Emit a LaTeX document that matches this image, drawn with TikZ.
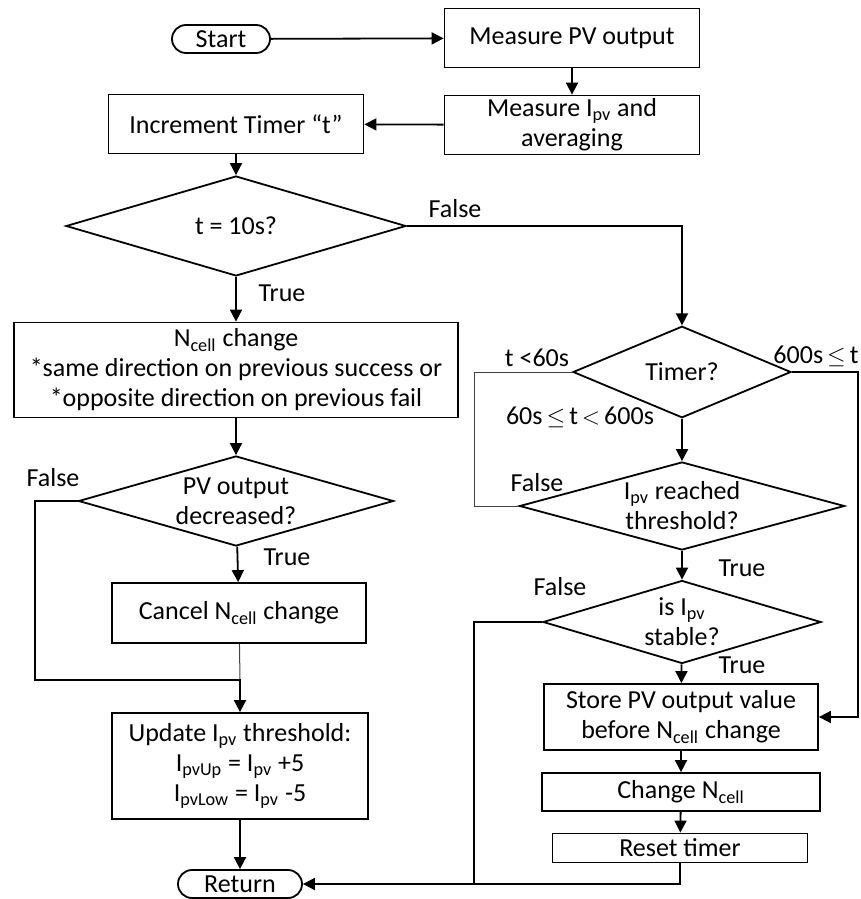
\documentclass[tikz,border=0pt]{standalone}
\usepackage{fontspec}
\setmainfont{Carlito}
\usetikzlibrary{arrows.meta,positioning,shapes.geometric,shapes.misc}

\newcommand{\Ipv}{I\textsubscript{pv}}
\newcommand{\Ncell}{N\textsubscript{cell}}

\begin{document}
\begin{tikzpicture}[x=0.5pt,y=-0.5pt,
  font=\fontsize{13}{15}\selectfont,
  box/.style={rectangle,draw,line width=0.9pt,align=center,inner sep=1pt},
  term/.style={rounded rectangle,draw,line width=0.9pt,inner sep=1pt},
  dec/.style={diamond,draw,line width=0.9pt,inner sep=0pt},
  arr/.style={-{Triangle[length=6pt,width=6pt]},line width=0.9pt},
  link/.style={line width=0.9pt},
  faint/.style={line width=0.5pt,black!75},
  lbl/.style={inner sep=1pt},
]
  \useasboundingbox (0,0) rectangle (861,899);

  % Start and measuring
  \node[term,minimum width=51pt,minimum height=14pt] (start) at (221,39) {Start};
  \node[box,minimum width=127.5pt,minimum height=29.5pt] (pvout) at (572,38) {Measure PV output};
  \node[box,minimum width=127.5pt,minimum height=29.5pt] (ipv) at (572,125) {Measure \Ipv{} and\\averaging};
  \node[box,minimum width=127.5pt,minimum height=29.5pt] (inc) at (236,124) {Increment Timer “t”};
  \node[dec,minimum width=170pt,minimum height=44pt] (d10) at (236,226) {t = 10s?};

  % Left branch: step N_cell
  \node[box,minimum width=222pt,minimum height=47.5pt] (ncell) at (236,370)
    {\Ncell{} change\\{}*same direction on previous success or\\{}*opposite direction on previous fail};
  \node[dec,minimum width=157.5pt,minimum height=45pt,
        label={[align=center]center:{PV output\\decreased?}}] (dpv) at (236,501) {};
  \node[box,minimum width=127pt,minimum height=30pt] (cancel) at (239,613) {Cancel \Ncell{} change};
  \node[box,minimum width=128pt,minimum height=53pt] (upd) at (240,766)
    {Update \Ipv{} threshold:\\I\textsubscript{pvUp} = \Ipv{} +5\\I\textsubscript{pvLow} = \Ipv{} -5};
  \node[term,minimum width=64pt,minimum height=14pt] (ret) at (240,884) {Return};

  % Right branch: timer checks
  \node[dec,minimum width=109pt,minimum height=26.5pt] (dtim) at (682,372) {Timer?};
  \node[dec,minimum width=162.5pt,minimum height=44pt,
        label={[align=center]center:{\Ipv{} reached\\threshold?}}] (dthr) at (682,506) {};
  \node[dec,minimum width=139pt,minimum height=41.5pt,
        label={[align=center]center:{is \Ipv\\stable?}}] (dstab) at (682,622) {};
  \node[box,minimum width=137pt,minimum height=33pt] (store) at (681,717)
    {Store PV output value\\before \Ncell{} change};
  \node[box,minimum width=139pt,minimum height=19pt] (chg) at (681,792) {Change \Ncell};
  \node[box,minimum width=127.5pt,minimum height=14.5pt] (reset) at (680,848) {Reset timer};

  % bends
  \coordinate (fl) at (35,680);
  \coordinate (j1) at (240,680);
  \coordinate (lx) at (474,884);
  \coordinate (rx) at (858,717);

  % main flow
  \draw[arr] (start) -- (pvout);
  \draw[arr] (pvout) -- (ipv);
  \draw[arr] (ipv) -- (inc);
  \draw[arr] (inc) -- (d10);
  \draw[arr] (d10.east) -| (dtim.north);
  \draw[arr] (d10) -- (ncell);
  \draw[arr] (ncell) -- (dpv);
  \draw[arr] (dpv) -- (cancel);
  \draw[faint] (cancel) -- (j1);
  \draw[arr] (dpv.west) -| (fl) -- (j1) -- (upd.north);
  \draw[arr] (upd) -- (ret);

  \draw[faint] (dtim.west) -| (dthr.west -| lx);
  \draw[faint] (dthr.west) -- (dthr.west -| lx);
  \draw[link] (dstab.west) -- (dstab.west -| lx) -- (lx);
  \draw[arr] (dtim.east) -| (rx) -- (store.east);
  \draw[arr] (dtim) -- (dthr);
  \draw[arr] (dthr) -- (dstab);
  \draw[arr] (dstab) -- (store);
  \draw[arr] (store) -- (chg);
  \draw[arr] (chg) -- (reset);
  \draw[arr] (reset.south) |- (ret.east);

  % branch labels
  \node[lbl] (f1) at (455,209) {False};
  \node[lbl] (t1) at (282,293) {True};
  \node[lbl] (f2) at (53,478) {False};
  \node[lbl] (t2) at (287,557) {True};
  \node[lbl] (lt) at (537,358) {t <60s};
  \node[lbl] (ge) at (816,356) {600s$\,\leq\,$t};
  \node[lbl] (mid) at (580,417) {60s$\,\leq\,$t$\,<\,$600s};
  \node[lbl] (f3) at (537,483) {False};
  \node[lbl] (t3) at (742,568) {True};
  \node[lbl] (f4) at (560,587) {False};
  \node[lbl] (t4) at (742,665) {True};
\end{tikzpicture}
\end{document}
